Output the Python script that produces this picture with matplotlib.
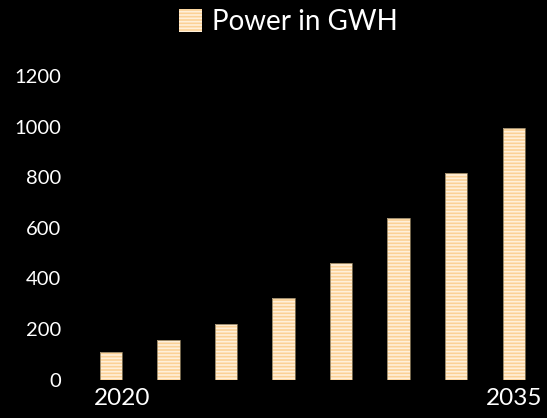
import matplotlib.pyplot as plt
import matplotlib.transforms as mtransforms
from matplotlib.patches import Patch

years = ['2020', '2022', '2024', '2026', '2028', '2030', '2032', '2035']
tick_labels = ['2020', '', '', '', '', '', '', '2035']
power = [110, 155, 221, 321, 462, 637, 817, 994]

plt.rcParams['font.family'] = ['Lato', 'DejaVu Sans']
plt.rcParams['hatch.linewidth'] = 1.2

fig = plt.figure(figsize=(5.47, 4.18), dpi=100, facecolor='black')
ax = fig.add_axes([0.150, 0.092, 0.842, 0.726], facecolor='black')

x = list(range(len(years)))
face = '#FBD196'
stripe = '#FFF0DA'

# fill + stripes, then a thin outline on top
ax.bar(x, power, width=0.39, color=face, edgecolor=stripe, hatch='-----', linewidth=0)
ax.bar(x, power, width=0.39, fill=False, edgecolor='#8a7a5c', linewidth=0.6)

ax.set_xlim(-0.5, len(years) - 0.5)
ax.set_ylim(0, 1200)
ax.set_yticks(range(0, 1201, 200))
ax.set_xticks(x)
ax.set_xticklabels(tick_labels)
ax.tick_params(axis='y', length=0, pad=15, labelsize=14.5, labelcolor='white')
ax.tick_params(axis='x', length=0, pad=6, labelsize=17.5, labelcolor='white')
for s in ax.spines.values():
    s.set_visible(False)

# first year label sits a little right of its bar in the original
lbl = ax.get_xticklabels()[0]
lbl.set_transform(lbl.get_transform() + mtransforms.ScaledTranslation(0.11, 0, fig.dpi_scale_trans))

handle = Patch(facecolor=face, edgecolor=stripe, hatch='-----', linewidth=0)
leg = fig.legend([handle], ['Power in GWH'], loc='upper center', bbox_to_anchor=(0.527, 1.038),
                 frameon=False, fontsize=20, handlelength=0.85, handleheight=0.85,
                 handletextpad=0.35, labelcolor='white')

fig.savefig('out.png', dpi=100, facecolor='black')
